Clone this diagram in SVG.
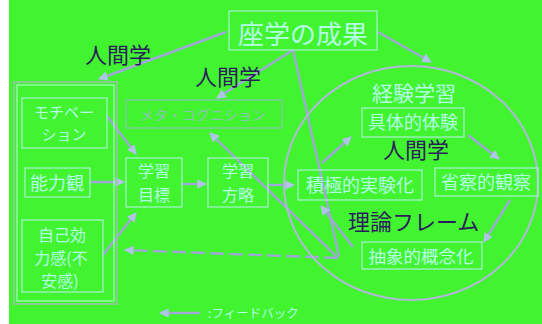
<svg xmlns="http://www.w3.org/2000/svg" width="542" height="324" viewBox="0 0 542 324">
<defs>
<marker id="ah" viewBox="0 0 10 10" refX="9" refY="5" markerWidth="4" markerHeight="4" orient="auto-start-reverse" markerUnits="strokeWidth">
<path d="M0,0 L10,5 L0,10 z" fill="#B0C4E8"/>
</marker>
<style>
.bx{fill:none;stroke:#A8F0D8;stroke-width:1.2}
.lt{font-family:"Noto Sans CJK JP","Noto Sans",sans-serif;fill:#B4FFE4;text-anchor:middle}
.dk{font-family:"Noto Sans CJK JP","Noto Sans",sans-serif;fill:#2A1E5C}
.ln{fill:none;stroke:#A0A8D8;stroke-width:2.4}
</style>
</defs>
<rect x="0" y="0" width="542" height="324" fill="#42F430"/>
<rect x="0" y="0" width="9" height="324" fill="#FFFFFF"/>

<g id="connectors">
<line class="ln" x1="226" y1="32" x2="99" y2="79" marker-end="url(#ah)"/>
<line class="ln" x1="293" y1="50" x2="217" y2="98" marker-end="url(#ah)"/>
<line class="ln" x1="293" y1="50" x2="339" y2="256"/>
<line class="ln" x1="378" y1="32" x2="431" y2="62" marker-end="url(#ah)"/>
<line class="ln" x1="338" y1="258" x2="210" y2="133" marker-end="url(#ah)"/>
<line class="ln" x1="338" y1="258" x2="125" y2="250" stroke-dasharray="14 5" stroke="#8FA4BC" marker-end="url(#ah)"/>
<line class="ln" x1="107" y1="116" x2="136" y2="154" marker-end="url(#ah)"/>
<line class="ln" x1="90" y1="182" x2="124" y2="182" marker-end="url(#ah)"/>
<line class="ln" x1="103" y1="255" x2="136" y2="213" marker-end="url(#ah)"/>
<line class="ln" x1="182" y1="184" x2="206" y2="184" marker-end="url(#ah)"/>
<line class="ln" x1="268" y1="185" x2="294" y2="185" marker-end="url(#ah)"/>
<line class="ln" x1="322" y1="163" x2="351" y2="137" marker-end="url(#ah)"/>
<line class="ln" x1="468" y1="135" x2="499" y2="159" marker-end="url(#ah)"/>
<line class="ln" x1="510" y1="200" x2="484" y2="242" marker-end="url(#ah)"/>
<line class="ln" x1="353" y1="247" x2="321" y2="206" marker-end="url(#ah)"/>
<line class="ln" x1="200" y1="313" x2="160" y2="313" stroke="#3A3A7A" marker-end="url(#ah)"/>
</g>

<g id="experiential-cycle">
<ellipse cx="411" cy="183" rx="127" ry="117" fill="none" stroke="#B0B8D8" stroke-width="2"/>
<text class="lt" x="414" y="101" font-size="21">経験学習</text>
</g>

<g id="title">
<rect class="bx" x="229" y="11" width="148" height="39"/>
<text class="lt" x="303" y="44" font-size="26">座学の成果</text>
</g>

<g id="label-ningen1"><text class="dk" x="85" y="63" font-size="22">人間学</text></g>
<g id="label-ningen2"><text class="dk" x="195" y="85" font-size="22">人間学</text></g>
<g id="label-ningen3"><text class="dk" x="383" y="158" font-size="22">人間学</text></g>
<g id="label-riron"><text class="dk" x="348" y="230" font-size="22">理論フレーム</text></g>

<g id="learner">
<rect x="14" y="82" width="103" height="222" fill="none" stroke="#A0C0B0" stroke-width="1.5"/>
<rect x="17" y="85" width="97" height="216" fill="none" stroke="#B8FFE0" stroke-width="1"/>
</g>

<g id="motivation">
<rect class="bx" x="22" y="98" width="85" height="50"/>
<text class="lt" x="64" y="118" font-size="15">モチベー</text>
<text class="lt" x="64" y="140" font-size="15">ション</text>
</g>

<g id="ability">
<rect class="bx" x="25" y="168" width="65" height="29"/>
<text class="lt" x="57" y="190" font-size="18">能力観</text>
</g>

<g id="efficacy">
<rect class="bx" x="22" y="220" width="81" height="72"/>
<text class="lt" x="62" y="241" font-size="16">自己効</text>
<text class="lt" x="61" y="264" font-size="16">力感(不</text>
<text class="lt" x="60" y="287" font-size="16">安感)</text>
</g>

<g id="metacognition">
<rect x="126" y="100" width="156" height="28" fill="none" stroke="#8CC0B8" stroke-width="1.2"/>
<text class="lt" x="203" y="120" font-size="14" style="fill:#8CC4B4">メタ・コグニション</text>
</g>

<g id="goal">
<rect class="bx" x="126" y="158" width="56" height="49"/>
<text class="lt" x="154" y="177" font-size="16">学習</text>
<text class="lt" x="154" y="201" font-size="16">目標</text>
</g>

<g id="strategy">
<rect class="bx" x="208" y="158" width="60" height="49"/>
<text class="lt" x="238" y="177" font-size="16">学習</text>
<text class="lt" x="238" y="201" font-size="16">方略</text>
</g>

<g id="concrete">
<rect class="bx" x="362" y="108" width="102" height="29"/>
<text class="lt" x="413" y="129" font-size="18">具体的体験</text>
</g>

<g id="active">
<rect class="bx" x="298" y="170" width="124" height="30"/>
<text class="lt" x="360" y="192" font-size="18">積極的実験化</text>
</g>

<g id="reflective">
<rect class="bx" x="435" y="168" width="103" height="28"/>
<text class="lt" x="486" y="189" font-size="18">省察的観察</text>
</g>

<g id="abstract">
<rect class="bx" x="362" y="242" width="120" height="27"/>
<text class="lt" x="421" y="263" font-size="17.5">抽象的概念化</text>
</g>

<g id="legend">
<text class="lt" x="208" y="318" font-size="12.5" style="text-anchor:start">:フィードバック</text>
</g>
</svg>
